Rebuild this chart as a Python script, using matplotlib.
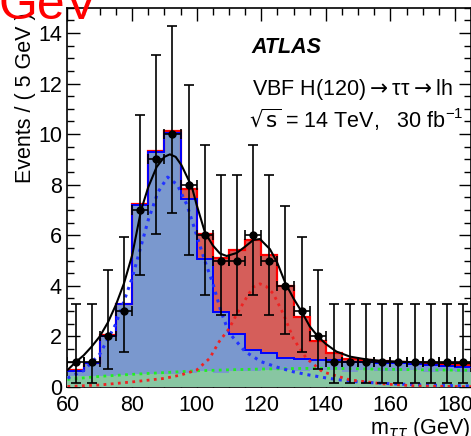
import matplotlib
matplotlib.use("Agg")
import matplotlib.pyplot as plt
from matplotlib.ticker import MultipleLocator
import numpy as np

plt.rcParams['font.family'] = ['Liberation Sans', 'DejaVu Sans']

# binning: 5 GeV bins from 60 to 185
edges = np.arange(60, 186, 5)
centers = edges[:-1] + 2.5

# data (events per bin) and asymmetric poisson errors
data = [1, 1, 2, 3, 7, 9, 10, 8, 6, 5, 5, 6, 5, 4, 3, 2, 1, 1, 1, 1, 1, 1, 1, 1, 1]
err_lo = [0.83, 0.83, 1.29, 1.63, 2.58, 2.94, 3.11, 2.77, 2.38, 2.16, 2.16, 2.38, 2.16,
          1.91, 1.63, 1.29, 0.83, 0.83, 0.83, 0.83, 0.83, 0.83, 0.83, 0.83, 0.83]
err_hi = [2.30, 2.30, 2.64, 2.92, 3.77, 4.11, 4.27, 3.95, 3.58, 3.38, 3.38, 3.58, 3.38,
          3.16, 2.92, 2.64, 2.30, 2.30, 2.30, 2.30, 2.30, 2.30, 2.30, 2.30, 2.30]

# stacked histograms (cumulative tops)
green_top = [0.42, 0.45, 0.45, 0.47, 0.50, 0.52, 0.52, 0.55, 0.65, 0.57, 0.65, 0.65, 0.67,
             0.67, 0.65, 0.66, 0.66, 0.60, 0.66, 0.65, 0.62, 0.66, 0.60, 0.62, 0.60]
blue_top = [0.65, 0.94, 2.02, 3.27, 7.19, 9.28, 10.03, 7.43, 5.05, 2.95, 2.10, 1.46, 1.34,
            1.15, 1.09, 1.05, 1.05, 1.00, 0.97, 0.95, 0.95, 0.90, 0.85, 0.82, 0.80]
total_top = [0.67, 0.96, 2.05, 3.30, 7.22, 9.35, 10.12, 7.81, 6.05, 5.10, 5.43, 5.83, 5.22,
             3.98, 2.78, 1.80, 1.35, 1.10, 1.05, 1.03, 1.00, 0.95, 0.92, 0.90, 0.87]

# fitted curves
tot_x = [60, 62.5, 65, 67.5, 70, 72.5, 75, 77.5, 80, 82.8, 85, 87.6, 90, 91.7, 93.5, 95.3,
         98.5, 100, 102.6, 105, 107.2, 109.3, 112.4, 115, 117.5, 119.6, 122.7, 125, 127.5,
         130, 132.5, 135, 137.6, 140, 143.3, 147.5, 152.6, 157.5, 162.9, 170, 177.5, 185]
tot_y = [0.67, 0.98, 1.25, 1.6, 2.0, 2.55, 3.25, 4.1, 5.2, 7.0, 7.9, 8.7, 9.1, 9.2, 9.1, 8.77,
         7.92, 7.2, 6.1, 5.6, 5.28, 5.18, 5.3, 5.55, 5.81, 5.85, 5.45, 4.9, 4.1,
         3.5, 2.98, 2.4, 1.99, 1.7, 1.4, 1.2, 1.09, 1.03, 1.0, 0.97, 0.95, 0.94]

z_x = [60, 65, 70, 75, 80, 85, 88, 91, 94, 97, 100, 102.5, 105, 107.5, 110, 115, 120, 125,
       130, 135, 140, 145, 150, 160, 170, 185]
z_y = [0.35, 0.65, 1.3, 2.5, 4.3, 6.6, 7.7, 8.3, 8.0, 7.2, 6.0, 5.0, 4.1, 3.0, 2.15, 1.4,
       1.0, 0.78, 0.6, 0.47, 0.36, 0.27, 0.2, 0.13, 0.08, 0.04]

h_x = [60, 70, 80, 90, 95, 100, 104, 107, 110, 112.5, 115.5, 117.5, 119.6, 121.5, 123.7,
       126.8, 130, 134, 139, 147.5, 158, 168, 185]
h_y = [0.02, 0.08, 0.2, 0.34, 0.47, 0.67, 1.13, 1.8, 2.3, 2.9, 3.55, 3.95, 4.08, 3.98, 3.7,
       2.9, 1.9, 1.13, 0.6, 0.28, 0.12, 0.04, 0.01]

bg_x = [60, 70, 80, 90, 100, 110, 120, 130, 140, 150, 160, 170, 185]
bg_y = [0.3, 0.42, 0.5, 0.57, 0.64, 0.68, 0.71, 0.73, 0.74, 0.72, 0.7, 0.68, 0.66]

fig = plt.figure(figsize=(4.71, 4.36), dpi=100)
ax = fig.add_axes([0.1433, 0.1124, 0.857, 0.870])

# filled stack
ax.stairs(total_top, edges, fill=True, color='#d55e5a', zorder=1)
ax.stairs(blue_top, edges, fill=True, color='#7a98ce', zorder=2)
ax.stairs(green_top, edges, fill=True, color='#88c6a2', zorder=3)
ax.stairs(total_top, edges, baseline=None, color='#ff0000', lw=1.6, zorder=4)
ax.stairs(blue_top, edges, baseline=None, color='#0000ff', lw=1.4, zorder=5)

# component fits
dots = (0, (1, 1.6))
ax.plot(bg_x, bg_y, color='#22ee22', lw=2.0, ls=dots, zorder=6)
ax.plot(z_x, z_y, color='#2233ff', lw=2.2, ls=dots, zorder=6)
ax.plot(h_x, h_y, color='#ee2222', lw=2.0, ls=dots, zorder=6)
ax.plot(tot_x, tot_y, color='black', lw=1.5, zorder=7)

ax.errorbar(centers, data, yerr=[err_lo, err_hi], xerr=2.5, fmt='o', color='black',
            ms=5, elinewidth=1.2, capsize=3.5, capthick=1.2, zorder=8)

ax.set_xlim(60, 185)
ax.set_ylim(0, 15)
ax.xaxis.set_major_locator(MultipleLocator(20))
ax.xaxis.set_minor_locator(MultipleLocator(5))
ax.yaxis.set_major_locator(MultipleLocator(2))
ax.yaxis.set_minor_locator(MultipleLocator(0.5))
ax.tick_params(which='both', direction='in', top=True, right=True, width=1.0,
               labelsize=15.5)
ax.tick_params(which='major', length=9)
ax.tick_params(which='minor', length=5)
ax.tick_params(axis='x', pad=6)
ax.tick_params(axis='y', pad=4)
for s in ax.spines.values():
    s.set_linewidth(1.2)

ax.text(117.1, 13.44, 'ATLAS', fontsize=15.5, fontweight='bold', fontstyle='italic',
        va='center', ha='left', zorder=9)
ax.text(117.1, 11.54, 'VBF H(120)$\\rightarrow$\u03c4\u03c4$\\rightarrow$lh',
        fontsize=15.5, va='baseline', ha='left', zorder=9)
ax.text(116.2, 10.24, r'$\sqrt{\mathrm{s}}$ = 14 TeV,   30 fb$^{\mathregular{-1}}$',
        fontsize=15.5, va='baseline', ha='left', zorder=9)

fig.text(26 / 471, 1 - 183 / 436, 'Events / ( 5 GeV )', rotation=90, fontsize=15.5,
         rotation_mode='anchor', ha='left', va='center')
fig.text(1.0, 1 - 428 / 436, r'm$_{\tau\tau}$ (GeV)', fontsize=15.5, ha='right',
         va='center')
fig.text(-0.004, 1 - 19 / 436, 'GeV', color='red', fontsize=36, ha='left',
         va='baseline')

fig.savefig('out.png', dpi=100)
